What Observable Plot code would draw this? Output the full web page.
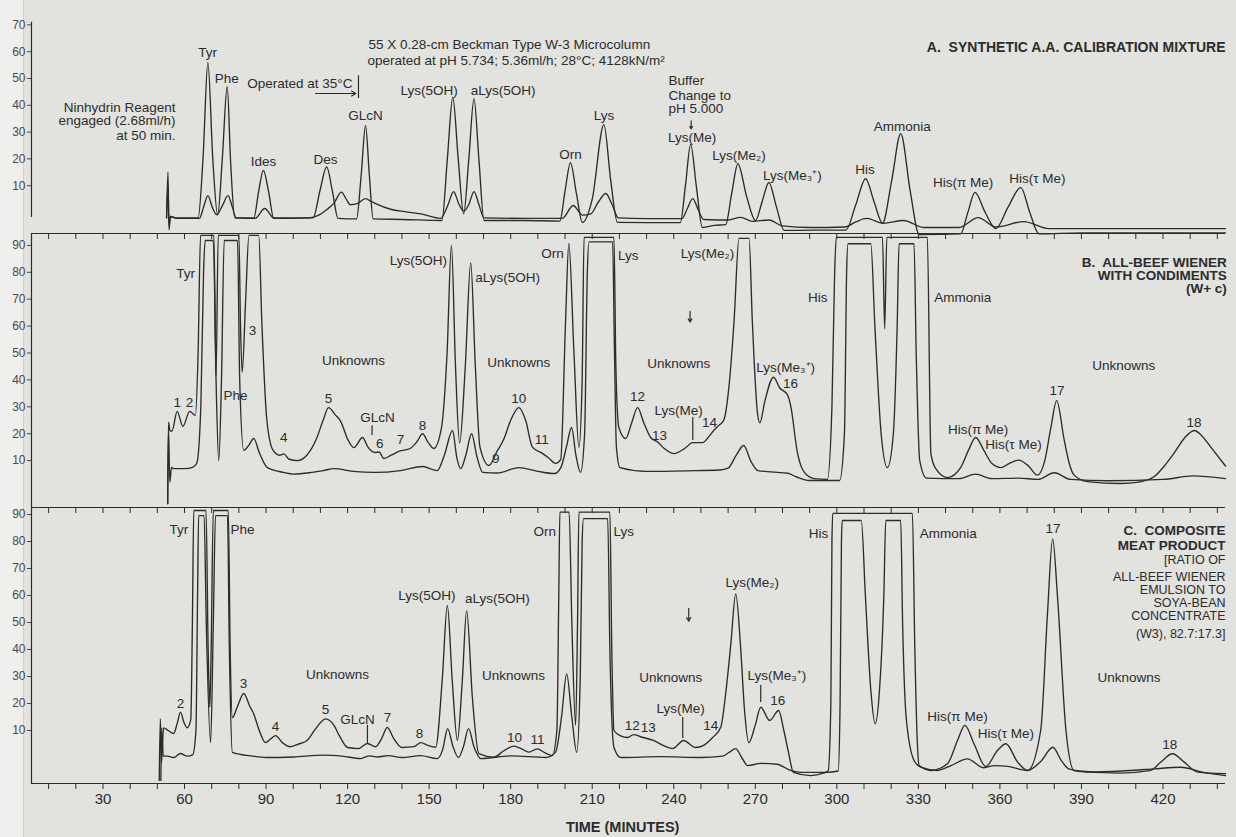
<!DOCTYPE html>
<html>
<head>
<meta charset="utf-8">
<script src="https://cdn.jsdelivr.net/npm/d3@7"></script>
<script src="https://cdn.jsdelivr.net/npm/@observablehq/plot@0.6"></script>
<style>
html, body { margin: 0; padding: 0; background: #e2e2de; }
#chart { position: relative; width: 1236px; height: 837px; overflow: hidden; background: #e2e2de; }
#strip { position: absolute; left: 0; top: 0; width: 23px; height: 837px; background: #efefed; border-right: 1px solid #d0d0cc; }
.panel { position: absolute; left: 0; }
</style>
</head>
<body>
<div id="chart"><div id="strip"></div></div>
<script>
// ---------- axis data ----------
const timeDomain = [3.7, 443];
const minorTicks = [10,20,30,40,50,60,70,80,90,100,110,120,130,140,150,160,170,180,190,200,210,220,230,240,250,260,270,280,290,300,310,320,330,340,350,360,370,380,390,400,410,420,430,440];
const xTickLabels = [30,60,90,120,150,180,210,240,270,300,330,360,390,420];
const xAxisTitle = "TIME (MINUTES)";
const yTicksA = [10,20,30,40,50,60,70];
const yTicksBC = [10,20,30,40,50,60,70,80,90];

// ---------- traces: [time (min), reading] ----------
const traceA_high = [[53.4,-2],[53.9,15],[54.3,-6.5],[54.8,-1.5],[57,-2],[65,-2],[66.8,20],[68.6,56],[70.4,20],[72.2,-1],[73.9,20],[75.7,47],[77,18],[78.5,-2],[85.5,-2],[87.3,8],[89,15.7],[90.9,8],[92.8,-2],[107.3,-2],[109.8,8],[112.3,17],[114.4,8],[116.5,-2.2],[123.3,-2.4],[125,14],[126.6,32.5],[128,14],[129.4,-2.4],[140,-2.6],[154.7,-3],[156.7,20],[158.7,43],[160.7,20],[162.7,-0.5],[164.6,20],[166.5,42.5],[168.3,20],[170.2,-3],[185,-3],[198.1,-3.2],[200,8],[202,18.6],[204.2,7],[206.4,-3.7],[210,5],[214.3,32.8],[216.8,12],[219.3,-3.7],[230,-3.8],[242.4,-3.8],[244.3,10],[246.2,25.4],[248.4,9],[250.5,-5.6],[255,-4.8],[259.1,-4.5],[261.3,7],[263.6,18.2],[266.8,6],[270.1,-3],[272.5,4],[275,11.2],[277.8,2],[280.6,-6.7],[292,-6.6],[303.3,-6.6],[307,3],[310.6,12.6],[313.7,4],[316.8,-4],[320.2,12],[323.5,29.4],[327,8],[330.3,-8.2],[345.5,-8],[348.2,0],[350.8,7.5],[354.6,0],[358.5,-6],[363,2],[367.7,9.3],[371,0],[374.4,-8],[390,-7.6],[443,-7.6]];
const traceA_low = [[53.4,-2],[53.9,10],[54.3,-5],[54.8,-1.5],[57,-2.2],[65.5,-2.2],[67,2],[68.6,6.3],[70.2,2],[71.8,-0.8],[73.9,2.5],[76,6.3],[77.6,2],[79,-2],[86,-2.2],[89.5,1.5],[93,-2.2],[106,-2],[109,-1.2],[112.5,1.2],[115,3.5],[117.7,7.6],[119.5,5],[121,2.9],[123.5,3.3],[126.6,5.2],[128.5,4.2],[130.3,3.3],[135.8,1.2],[141,0.3],[147,-0.5],[154.2,-2.2],[156.8,2.5],[159,7.8],[161,3],[162.8,0.5],[164.6,3],[166.5,7.8],[168.3,3],[170.2,-2],[185,-2.2],[199,-2.2],[203,2.6],[206.5,-1],[209.5,-0.5],[212.3,4],[215,7.1],[217.3,3],[219.6,-2],[230,-2.3],[243,-2.3],[245,1.5],[247,5.2],[249,1],[251,-2.6],[260,-2.8],[264.6,-1.8],[269,-3.3],[275,-2.8],[280,-5],[290,-5.6],[303,-5.4],[307,-3.5],[311,-2.2],[317,-4],[324.6,-3],[332,-5.6],[345,-5.6],[352,-1.9],[358.5,-5.4],[368.8,-3.4],[378,-6],[443,-6]];

const traceB_high = [[53.8,-6],[54.1,24.3],[54.7,21],[55.4,21],[57.3,28.3],[59.4,22.7],[61.9,28.3],[64,26.8],[65,50],[65.9,93.7],[70.8,93.7],[71.6,41.6],[72.4,93.7],[80,93.7],[80.6,60],[81.2,42.8],[82.5,70],[83.7,93.7],[87.3,93.7],[88.5,60],[90.3,25],[92.5,14],[95,12],[96.5,12.5],[98.5,10.5],[101.5,10],[105,12],[108.5,18],[111,25],[113,29.7],[115.5,27],[117.5,24.5],[120,18],[122.3,14.8],[125.5,18.6],[127.5,15],[130,13],[131.6,13.2],[133.3,10.8],[136,12],[139,13.5],[143,14.5],[145.5,17],[147.6,20],[149.5,17],[151.7,14.5],[154.5,22],[156.6,50],[158.2,90],[159.7,45],[161.2,16.5],[163.3,45],[165.3,83.6],[167,45],[168.7,15],[172,8.2],[175,13.5],[177.5,18],[180,25],[183,29.7],[185.5,25],[188,15],[191.8,12.6],[194,11],[196.5,9],[198.4,10.4],[200.2,62],[201.4,90.7],[203.3,49.7],[205.1,14.9],[206.3,40],[207,93],[218,93],[218.7,45],[219.8,22.3],[222.3,18.2],[224.5,24],[226.7,29.7],[229,24],[231.5,18.6],[234,17],[236.5,14.5],[240,12.6],[244,14.5],[247,16.7],[250.6,16.7],[253,19],[254.7,21.2],[256.5,23],[258.4,25],[260.3,37.4],[262.2,62],[264,92.6],[267.7,92.6],[268.9,62],[270.8,27.7],[271.7,24],[273.5,32],[276.7,41],[279,37],[281.8,34.5],[283,30.5],[285.5,13],[288,5.7],[291.6,3.3],[296.5,3],[298.2,30],[299.2,80],[299.8,93],[316.8,93],[317.6,59],[318.4,93],[333.3,93],[334.6,12.6],[336.4,7],[340.7,3.7],[345.6,7.5],[348.5,14],[351.1,18.6],[354,14],[357,9],[360.3,7.4],[363.5,9],[367,10.2],[370.5,8],[373.8,4.6],[376.5,10],[378.7,22],[380.9,32.3],[383.6,18],[385.5,9],[387.3,4.6],[392.2,2.2],[404.5,1.5],[411,2],[416.8,4.1],[420.5,8],[424.1,12.8],[428,18.5],[431.5,21.2],[434.5,19],[437.6,15],[443,8]];
const traceB_low = [[53.8,-6],[54.1,22],[54.6,2],[55.2,7.5],[56,7],[60,7],[63,7.5],[64.5,9],[66,30],[67,80],[67.6,91.8],[70.6,91.8],[71.6,40],[72.6,10],[73.6,40],[74.6,91.8],[79.5,91.8],[80.3,40],[81.8,13.8],[83.5,15.5],[85.5,18.2],[87.5,13],[90.5,7.4],[96.5,5.6],[100,5],[106,5.5],[111,6.3],[115,7],[122,6],[130,5.6],[139.5,6.3],[147.6,7.8],[153,6.3],[155.6,12],[158.6,21.2],[160.2,11],[161.6,7],[163.5,12],[165.6,20],[167.7,11],[169.7,5.6],[175,5.4],[183,7.4],[190,6],[196,5.2],[198.5,7.5],[200.5,15],[202.4,22.3],[204,12],[205.7,5.6],[207.2,20],[208.2,80],[208.8,91.3],[217.5,91.3],[218.2,50],[218.9,15],[220.2,7.4],[230,6],[245,6.2],[257,6.5],[260,7.2],[263,12],[265.7,15.6],[268.5,9.5],[271,6.3],[276,5.8],[282,5.3],[285,4],[290,2.6],[301,2.6],[302.8,20],[303.6,80],[304.1,90.6],[312.5,90.6],[314,60],[316.3,20],[318.6,7.4],[320.8,20],[322.2,60],[322.9,90.6],[328.4,90.6],[329.2,50],[330.5,10],[333,3.5],[345,3.3],[351,5],[357,3.3],[367,3.5],[374,3],[380,5.5],[386,3],[400,2.5],[420,3],[431,4.3],[443,3.3]];

const traceC_high = [[50.7,-8.5],[51.1,14.3],[51.5,-2],[52.3,11],[54,10],[56,8.9],[57.4,13],[58.5,16.8],[59.8,13],[61,11],[62.3,14],[62.9,50],[63.4,91.5],[67.9,91.5],[68.7,40],[69.3,18.6],[69.8,40],[70.6,91.5],[76.1,91.5],[76.8,40],[77.6,14.8],[79.5,19],[81.8,23.7],[84,19],[85.4,16.3],[87.5,10],[89.8,5.5],[91.8,7],[93.5,8.1],[96,5.5],[99,4],[102,5],[105.1,6.3],[108.2,10.6],[111.9,14.3],[115,11.9],[117,8],[120,3.7],[124,3.3],[127.3,5.2],[130.3,4],[132.5,7],[134.6,11.1],[137,7],[140,3.7],[144.4,4],[146.9,5.5],[149.5,4.5],[152.4,3.8],[154.8,28.5],[156.7,56.3],[158.5,28.5],[160.4,6.3],[162.2,28.5],[163.8,54.4],[165.9,22.3],[168.3,1.4],[173.8,0.1],[177.5,2.5],[181.2,4.2],[184,3.2],[186.7,2],[189.8,3.2],[192.5,1.8],[195.3,0.7],[197,10],[197.7,60],[198.1,90.9],[201.5,90.9],[202.5,50],[203.9,11.9],[204.6,50],[205.1,90.9],[216.5,90.9],[217.2,40],[218,10],[220.5,8],[223,7.4],[225.3,8.5],[228,7.6],[232.6,6.3],[236,4.5],[239.6,3.3],[243.6,6.3],[248,3.7],[251,4.5],[254.3,7.4],[257.3,11.2],[259.1,23.6],[261,42],[262.8,60.6],[264.6,40.9],[266,18],[267.6,5.5],[270,12],[272,18.6],[275.3,13.7],[278.6,17.4],[280.5,10],[282.3,1.5],[284,-5.5],[290.4,-6.7],[295,-5.8],[296.8,-5],[297.8,20],[298.2,80],[298.5,90.4],[327.8,90.4],[328.7,40],[329.7,3.8],[330.3,-3],[334.6,-4.8],[340.7,-2.3],[344.4,6.3],[347.1,11.9],[350.5,5],[354.8,-3.3],[359.1,2.6],[362.2,5.1],[366.5,-1.7],[370.2,-4.8],[375,10],[377.5,53.2],[379.4,81],[381.2,59.4],[384.3,10],[387.3,-4.8],[404.5,-5.8],[415.5,-4.8],[419.2,-1.7],[423.5,1.4],[427.8,-1.7],[432.7,-5.4],[443,-6]];
const traceC_low = [[51.3,-8.5],[51.6,11],[52.2,0.5],[53.7,0.5],[56,0],[58.5,1.5],[61,0.5],[63,1],[64.2,10],[64.8,60],[65.2,89.6],[67.2,89.6],[68,50],[69.6,5.5],[70.6,50],[71.4,89.6],[75.8,89.6],[76.5,40],[77.6,1.9],[85,0.5],[90,0],[100,0.2],[111,0.9],[118,0.5],[124.8,-0.4],[128,0.6],[131,0.2],[135,0.7],[140,0],[146.9,0.7],[153,-0.4],[155,3],[156.8,10.7],[158.8,4],[160.8,0],[162.6,4],[164.5,10.7],[166.5,4],[169,-0.4],[180,0.6],[193,0],[196.5,2],[198.7,15],[200.6,31],[202.5,15],[204.3,1.9],[205.6,30],[206.3,80],[206.8,88.5],[215.7,88.5],[216.5,40],[218,3.7],[220.5,0],[235,0.3],[250,0],[258,0.5],[260.5,2],[262.8,3.3],[265,0],[267.2,-3],[272,-2.2],[278,-2.5],[283,-4.8],[287,-5.5],[296,-5.5],[300.5,-5],[301.2,20],[301.7,80],[302,87.8],[309,87.8],[310.5,60],[312.5,25],[314.1,12.5],[315.7,25],[317.3,60],[318,87.8],[323.5,87.8],[324.2,50],[325.5,15],[328.4,-1.1],[330.9,-3.6],[337,-4.8],[342,-3],[348,-0.5],[354,-3.8],[358,-3],[363,-3.3],[370.2,-4.8],[375,-1.5],[379.5,3.8],[382.5,-1],[385.3,-4.2],[392.2,-5.4],[405,-5],[416.6,-4.2],[426.5,-3.6],[435,-5.5],[443,-6.7]];

// ---------- annotations: [text, time, reading] ----------
const labelsA = [["Tyr",68.5,59.7],["Phe",75.5,50],["Ides",89.1,19],["Des",111.9,19.8],["GLcN",126.6,36.2],["Lys(5OH)",150,45.5],["aLys(5OH)",177.2,45.5],["Orn",202,21.6],["Lys",214.3,36.2],["Lys(Me)",246.8,28.1],["Lys(Me₂)",264,21.3],["Lys(Me₃⁺)",283.6,13.8],["His",310.4,15.9],["Ammonia",324.1,32.1],["His(π Me)",346.5,11.3],["His(τ Me)",373.8,12.6]];
const labelsAEnd = [["Operated at 35°C",121.8,48.1],["Ninhydrin Reagent",56.7,39.2],["engaged (2.68ml/h)",56.7,34.1],["at 50 min.",56.7,28.7]];
const labelsAStart = [["55 X 0.28-cm Beckman Type W-3 Microcolumn",127.7,62.7],["operated at pH 5.734; 5.36ml/h; 28°C; 4128kN/m²",127.3,56.7],["Buffer",238.1,49.3],["Change to",238.1,43.7],["pH 5.000",238.1,38.8]];
const titleA = [["A.  SYNTHETIC A.A. CALIBRATION MIXTURE",443,61.6]];

const labelsB = [["Tyr",60.4,79.6],["1",57.3,31.6],["2",61.8,31.6],["Phe",78.8,34.2],["3",85,58.4],["Unknowns",122.2,47.2],["4",96.5,18.6],["5",113,33],["GLcN",131,26],["6",131.8,16.4],["7",139.5,17.8],["8",147.6,23],["Unknowns",183,46.5],["9",174.5,10.8],["10",183,33],["11",191.4,17.8],["Orn",195.4,87],["Lys",223.3,86.2],["Lys(Me₂)",252.4,87],["Unknowns",241.8,46],["12",226.7,33.8],["13",234.8,19.3],["Lys(Me)",241.8,28.6],["14",253.2,24.2],["Lys(Me₃⁺)",281.2,44.7],["16",283,38.7],["His",293,70.6],["Ammonia",346.3,70.6],["Unknowns",405.6,45.4],["17",381,36],["His(π Me)",352,21.6],["His(τ Me)",365,16],["18",431.4,24.2]];
const labelsBEnd = [["Lys(5OH)",156.6,84.4]];
const labelsBStart = [["aLys(5OH)",167,78]];
const titleB = [["B.  ALL-BEEF WIENER",443.5,83.6],["WITH CONDIMENTS",443.5,78.8],["(W+ c)",443.5,74]];

const labelsC = [["Tyr",57.9,84.4],["Phe",81.3,84.4],["2",58.5,20],["3",81.7,27.4],["4",93.5,11.5],["5",111.9,17.8],["GLcN",123.6,14],["7",134.7,14.8],["8",146.5,8.9],["Unknowns",116.3,30.7],["aLys(5OH)",175.1,58.9],["Unknowns",181,30.4],["10",181.4,7.4],["11",189.9,6.7],["Orn",192.5,83.7],["Lys",221.6,83.7],["Unknowns",238.9,29.6],["12",224.7,11.9],["13",230.6,11.1],["Lys(Me)",242.5,18.1],["14",253.6,11.9],["Lys(Me₂)",268.9,64.8],["Lys(Me₃⁺)",277.9,30.4],["16",278.3,21.1],["His",293.3,83],["Ammonia",341,83],["17",379.5,84.8],["Unknowns",407.5,29.6],["His(π Me)",344.4,15.2],["His(τ Me)",362.2,8.8],["18",422.5,4.8]];
const labelsCEnd = [["Lys(5OH)",159.7,60]];
const titleCBold = [["C.  COMPOSITE",443,84.1],["MEAT PRODUCT",443,78.5]];
const titleCPlain = [["[RATIO OF",443,73.1],["ALL-BEEF WIENER",443,66.8],["EMULSION TO",443,61.9],["SOYA-BEAN",443,57.1],["CONCENTRATE",443,52.3],["(W3), 82.7:17.3]",443,45.6]];

// leader ticks: [time, from, to]; arrows: [t1, v1, t2, v2]
const leadersA = [[124,42.5,51]];
const leadersB = [[129,19.3,23],[247,17.5,26]];
const leadersC = [[127.3,5.2,11.9],[243.3,7,14.8],[272,20.4,26.7]];
const arrowsA = [[108.2,44.4,123,44.4],[246.4,34.2,246.4,31.2]];
const arrowsB = [[246,65.5,246,61.5]];
const arrowsC = [[245.5,55.2,245.5,50.5]];

// ---------- drawing ----------
const INK = "#2c2c2c";
const FONT = "'Liberation Sans', Arial, Helvetica, sans-serif";
const toPts = arr => arr.map(([t, v]) => ({t, v}));
const toLab = arr => arr.map(([text, t, v]) => ({text, t, v}));

function textMarks(arr, anchor, size = 13.5, weight = "normal") {
  return Plot.text(toLab(arr), {x: "t", y: "v", text: "text", textAnchor: anchor, fontSize: size, fontWeight: weight, fontFamily: FONT, fill: INK});
}

function panel(cfg) {
  const {top, height, marginBottom = 0, yDomain, yTicks, axisFrom, axisTo, traces,
         mid = [], start = [], end = [], bold = [], boldSize = 13.5, plain = [],
         leaders = [], arrows = [], frameTop = null, frameBottom = null, xAxis = false} = cfg;
  const pxPerUnit = (height - marginBottom) / (yDomain[1] - yDomain[0]);
  const tickLen = 6 / pxPerUnit;
  const marks = [];
  for (const tr of traces) {
    marks.push(Plot.line(toPts(tr), {x: "t", y: "v", curve: "monotone-x", stroke: INK, strokeWidth: 1.35, strokeLinejoin: "round"}));
  }
  marks.push(Plot.ruleX([timeDomain[0]], {y1: axisFrom, y2: axisTo, stroke: INK, strokeWidth: 1.2}));
  marks.push(Plot.axisY({ticks: yTicks, tickSize: 4, tickPadding: 2, fontSize: 12, label: null, color: "#4a4a4a", fontFamily: "'Liberation Sans Narrow', 'Liberation Sans', sans-serif"}));
  if (frameTop !== null) {
    marks.push(Plot.ruleY([frameTop], {stroke: INK, strokeWidth: 1.2}));
    marks.push(Plot.ruleX(minorTicks, {x: d => d, y1: frameTop, y2: frameTop - tickLen, stroke: INK, strokeWidth: 1}));
  }
  if (frameBottom !== null) {
    marks.push(Plot.ruleY([frameBottom], {stroke: INK, strokeWidth: 1.2}));
  }
  if (xAxis) {
    marks.push(Plot.axisX({ticks: minorTicks, tickSize: 6, tickPadding: 4, fontSize: 15, label: null, color: INK, fontFamily: FONT,
      tickFormat: d => xTickLabels.includes(d) ? String(d) : ""}));
    marks.push(Plot.text([xAxisTitle], {x: 221.2, frameAnchor: "bottom", lineAnchor: "top", dy: 38, fontSize: 14.5, fontWeight: "bold", fontFamily: FONT, fill: INK}));
  }
  for (const [t, a, b] of leaders) {
    marks.push(Plot.ruleX([t], {y1: a, y2: b, stroke: INK, strokeWidth: 1.2}));
  }
  if (arrows.length) {
    marks.push(Plot.arrow(arrows.map(([x1, y1, x2, y2]) => ({x1, y1, x2, y2})), {x1: "x1", y1: "y1", x2: "x2", y2: "y2", stroke: INK, strokeWidth: 1.2, headLength: 6}));
  }
  if (mid.length) marks.push(textMarks(mid, "middle"));
  if (start.length) marks.push(textMarks(start, "start"));
  if (end.length) marks.push(textMarks(end, "end"));
  if (bold.length) marks.push(textMarks(bold, "end", boldSize, "bold"));
  if (plain.length) marks.push(textMarks(plain, "end", 12.5));

  const svg = Plot.plot({
    width: 1236, height, marginLeft: 31, marginRight: 11, marginTop: 0, marginBottom,
    x: xAxis ? {domain: timeDomain} : {domain: timeDomain, axis: null},
    y: {domain: yDomain},
    style: {background: "transparent", overflow: "visible", fontFamily: FONT, color: INK},
    marks
  });
  svg.classList.add("panel");
  svg.style.top = top + "px";
  svg.style.position = "absolute";
  svg.style.left = "0px";
  document.getElementById("chart").appendChild(svg);
}

panel({top: 0, height: 233, yDomain: [-7.84, 79.1], yTicks: yTicksA, axisFrom: -1.9, axisTo: 71,
  traces: [traceA_high, traceA_low], mid: labelsA, start: labelsAStart, end: labelsAEnd,
  bold: titleA, boldSize: 14, leaders: leadersA, arrows: arrowsA});

panel({top: 233, height: 274, yDomain: [-7.43, 94.42], yTicks: yTicksBC, axisFrom: -7.43, axisTo: 94.42,
  traces: [traceB_high, traceB_low], mid: labelsB, start: labelsBStart, end: labelsBEnd,
  bold: titleB, leaders: leadersB, arrows: arrowsB, frameTop: 94.42});

panel({top: 507, height: 330, marginBottom: 54, yDomain: [-9.63, 92.6], yTicks: yTicksBC, axisFrom: -9.63, axisTo: 92.6,
  traces: [traceC_high, traceC_low], mid: labelsC, end: labelsCEnd, bold: titleCBold, plain: titleCPlain,
  leaders: leadersC, arrows: arrowsC, frameTop: 92.6, frameBottom: -9.63, xAxis: true});
</script>
</body>
</html>
